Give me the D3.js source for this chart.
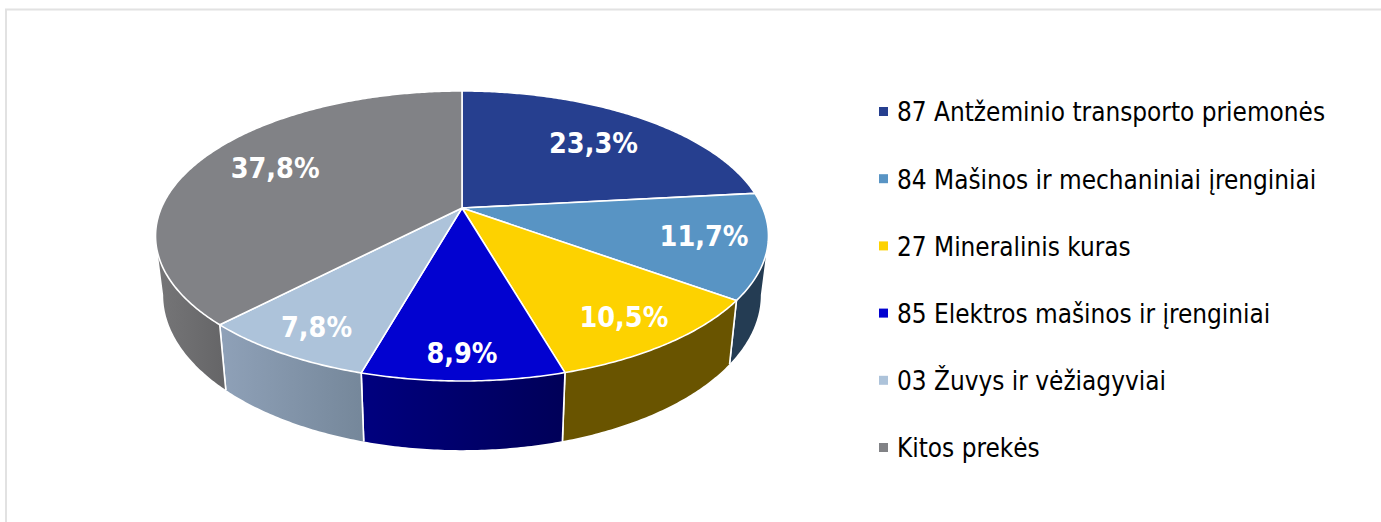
<!DOCTYPE html>
<html>
<head>
<meta charset="utf-8">
<script src="https://cdn.jsdelivr.net/npm/d3@7"></script>
<style>
  body { margin: 0; background: #fff; }
  text { font-family: "DejaVu Sans", sans-serif; font-stretch: condensed; }
</style>
</head>
<body>
<div id="grafico"></div>
<script>
const categories = [
  "87 Antžeminio transporto priemonės",
  "84 Mašinos ir mechaniniai įrenginiai",
  "27 Mineralinis kuras",
  "85 Elektros mašinos ir įrenginiai",
  "03 Žuvys ir vėžiagyviai",
  "Kitos prekės"
];
const shares = [23.3, 11.7, 10.5, 8.9, 7.8, 37.8];
const shareLabels = ["23,3%", "11,7%", "10,5%", "8,9%", "7,8%", "37,8%"];

const topColors  = ["#263f8f", "#5894c4", "#fdd200", "#0202d0", "#adc3da", "#818286"];
const sideLeft   = ["#1c2f6a", "#243c53", "#695400", "#00007f", "#8fa1b8", "#767678"];
const sideRight  = ["#1c2f6a", "#243c53", "#695400", "#000058", "#75879a", "#656567"];

// where each label sits along its slice, and the small hand nudge it needs
const labelDepth = [0.71, 0.8, 0.82, 0.865, 0.85, 0.72];
const labelNudge = [[2, 2], [0, -2], [-1, 1], [-1, 0], [3, -1], [4, -5]];

const width = 1381;
const height = 522;

const svg = d3.select("#grafico")
              .append("svg")
              .attr("width", width)
              .attr("height", height)
              .style("display", "block");

// frame of the original picture, only top and left show
svg.append("path")
   .attr("d", `M6,${height} V9.5 H${width}`)
   .attr("fill", "none")
   .attr("stroke", "#e2e2e2")
   .attr("stroke-width", 2);

// tilted disc: k is the perspective, the apex is not the middle of the ellipse
const k = 0.193;
const topDisc = { x: 462, y: 208, rx: 300.7, ry: 139.6 };
const baseDisc = { x: 462, y: 265, rx: 293.2, ry: 149.4 };

const project = (disc, angle, r = 1) => {
  const u = r * Math.sin(angle);
  const v = r * Math.cos(angle);
  const w = 1 + k * v;
  return [disc.x + disc.rx * u / w, disc.y - disc.ry * v / w];
};

const arcAngles = (a0, a1) => {
  const n = Math.max(2, Math.ceil((a1 - a0) / 0.01));
  return d3.range(n + 1).map(i => a0 + (a1 - a0) * i / n);
};

const line = d3.line();

const pie = d3.pie().sort(null).value(d => d);
const slices = pie(shares);

const defs = svg.append("defs");
slices.forEach((d, i) => {
  const grad = defs.append("linearGradient").attr("id", `side${i}`);
  grad.append("stop").attr("offset", "0%").attr("stop-color", sideLeft[i]);
  grad.append("stop").attr("offset", "100%").attr("stop-color", sideRight[i]);
});

// the rim turns away from the viewer where v = -k
const hidden = Math.acos(-k);
const visibleFrom = hidden;
const visibleTo = 2 * Math.PI - hidden;

const sides = svg.append("g");
slices.forEach((d, i) => {
  const a0 = Math.max(d.startAngle, visibleFrom);
  const a1 = Math.min(d.endAngle, visibleTo);
  if (a1 <= a0) return;
  const angles = arcAngles(a0, a1);
  const top = angles.map(a => project(topDisc, a));
  const base = angles.map(a => project(baseDisc, a)).reverse();
  sides.append("path")
       .attr("d", line(top.concat(base)) + "Z")
       .attr("fill", `url(#side${i})`);
  // white seams only where two slices meet
  [d.startAngle, d.endAngle].forEach(a => {
    if (a < visibleFrom || a > visibleTo) return;
    sides.append("path")
         .attr("d", line([project(topDisc, a), project(baseDisc, a)]))
         .attr("stroke", "#fff")
         .attr("stroke-width", 1.6)
         .attr("fill", "none");
  });
});

const faces = svg.append("g");
slices.forEach((d, i) => {
  const rim = arcAngles(d.startAngle, d.endAngle).map(a => project(topDisc, a));
  faces.append("path")
       .attr("d", line([[topDisc.x, topDisc.y]].concat(rim)) + "Z")
       .attr("fill", topColors[i])
       .attr("stroke", "#fff")
       .attr("stroke-width", 1.6)
       .attr("stroke-linejoin", "round");
});

const labels = svg.append("g");
slices.forEach((d, i) => {
  const mid = (d.startAngle + d.endAngle) / 2;
  const [x, y] = project(topDisc, mid, labelDepth[i]);
  labels.append("text")
        .attr("x", x + labelNudge[i][0])
        .attr("y", y + labelNudge[i][1])
        .attr("dy", "0.36em")
        .attr("text-anchor", "middle")
        .attr("font-weight", "bold")
        .attr("font-size", "28.5px")
        .attr("fill", "#fff")
        .text(shareLabels[i]);
});

const legendY = d3.scalePoint()
                  .domain(categories)
                  .range([112, 448]);

const legend = svg.append("g")
                  .selectAll("g")
                  .data(categories)
                  .enter()
                  .append("g")
                  .attr("transform", d => `translate(879, ${legendY(d)})`);

legend.append("rect")
      .attr("y", -5)
      .attr("width", 9)
      .attr("height", 9)
      .attr("fill", (d, i) => topColors[i]);

legend.append("text")
      .attr("x", 18)
      .attr("dy", "0.36em")
      .attr("font-size", "25.9px")
      .attr("fill", "#000")
      .text(d => d);
</script>
</body>
</html>
